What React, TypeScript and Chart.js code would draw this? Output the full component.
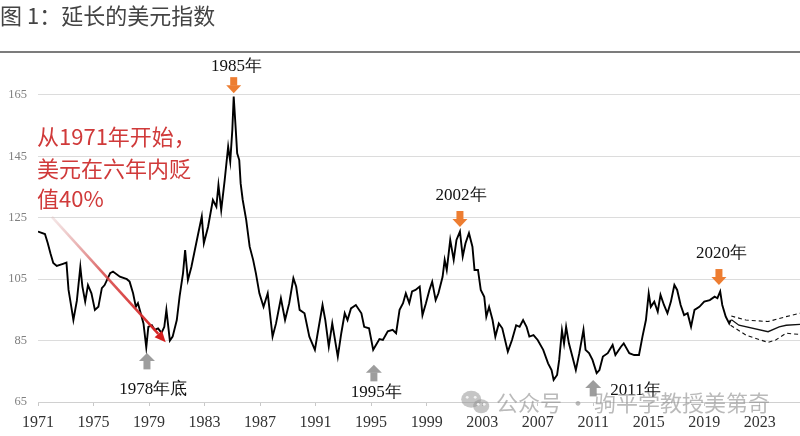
import React, { useEffect, useRef } from "react";
import { Chart, registerables } from "chart.js";

Chart.register(...registerables);

const titleText = "图 1：延长的美元指数";

const xTickYears = [1971, 1975, 1979, 1983, 1987, 1991, 1995, 1999, 2003, 2007, 2011, 2015, 2019, 2023];
const yTickValues = [65, 85, 105, 125, 145, 165];

const dxyYears = [
  1971.0, 1971.5, 1971.7, 1971.9, 1972.1, 1972.35, 1972.8, 1973.05, 1973.2, 1973.4,
  1973.55, 1973.8, 1974.05, 1974.2, 1974.4, 1974.6, 1974.85, 1975.1, 1975.35, 1975.6,
  1975.8, 1976.2, 1976.4, 1976.9, 1977.4, 1977.6, 1977.85, 1978.05, 1978.2, 1978.4,
  1978.6, 1978.8, 1978.95, 1979.2, 1979.4, 1979.65, 1979.9, 1980.1, 1980.25, 1980.5,
  1980.7, 1981.0, 1981.2, 1981.45, 1981.6, 1981.8, 1982.05, 1982.3, 1982.5, 1982.8,
  1982.95, 1983.25, 1983.6, 1983.85, 1984.0, 1984.2, 1984.45, 1984.7, 1984.85, 1985.0,
  1985.1, 1985.25, 1985.35, 1985.5, 1985.6, 1985.75, 1986.0, 1986.25, 1986.5, 1986.7,
  1986.95, 1987.25, 1987.55, 1987.9, 1988.15, 1988.5, 1988.8, 1989.1, 1989.4, 1989.6,
  1989.85, 1990.2, 1990.55, 1990.95, 1991.15, 1991.5, 1991.7, 1991.95, 1992.2, 1992.6,
  1992.85, 1993.1, 1993.3, 1993.55, 1993.9, 1994.3, 1994.5, 1994.85, 1995.15, 1995.6,
  1995.85, 1996.2, 1996.55, 1996.8, 1997.05, 1997.3, 1997.5, 1997.75, 1997.95, 1998.2,
  1998.5, 1998.7, 1998.95, 1999.2, 1999.4, 1999.65, 1999.85, 2000.15, 2000.3, 2000.45,
  2000.7, 2000.95, 2001.15, 2001.4, 2001.6, 2001.8, 2002.05, 2002.3, 2002.45, 2002.7,
  2002.9, 2003.15, 2003.3, 2003.5, 2003.75, 2003.95, 2004.2, 2004.45, 2004.85, 2005.15,
  2005.45, 2005.7, 2005.95, 2006.2, 2006.4, 2006.7, 2007.0, 2007.4, 2007.75, 2008.0,
  2008.15, 2008.4, 2008.55, 2008.75, 2008.9, 2009.05, 2009.25, 2009.5, 2009.75, 2010.0,
  2010.3, 2010.45, 2010.7, 2010.95, 2011.25, 2011.45, 2011.7, 2012.05, 2012.4, 2012.6,
  2013.0, 2013.2, 2013.6, 2013.95, 2014.3, 2014.55, 2014.8, 2015.0, 2015.15, 2015.4,
  2015.65, 2015.85, 2016.1, 2016.35, 2016.6, 2016.85, 2017.05, 2017.3, 2017.55, 2017.8,
  2018.05, 2018.3, 2018.65, 2019.0, 2019.4, 2019.75, 2019.95, 2020.15, 2020.3, 2020.55,
  2020.8, 2020.9,
];
const dxyValues = [
  120.5, 119.7, 116.8, 113.4, 110.3, 109.3, 110.0, 110.4, 101.5, 96.0,
  91.7, 98.0, 109.0, 102.6, 97.7, 103.1, 100.4, 95.0, 96.0, 102.1,
  103.1, 107.0, 107.5, 105.8, 105.0, 104.2, 100.4, 96.0, 97.2, 93.9,
  90.6, 82.8, 89.5, 90.0, 88.5, 89.0, 87.5, 89.5, 95.0, 85.0,
  86.3, 91.7, 99.3, 107.0, 114.5, 104.7, 109.0, 114.5, 118.9, 125.4,
  116.7, 122.0, 130.8, 128.6, 135.7, 127.5, 137.3, 148.2, 143.3, 153.6,
  164.5, 153.6, 146.0, 143.8, 136.2, 130.8, 124.3, 115.6, 111.3, 106.9,
  100.4, 96.0, 100.4, 86.3, 90.6, 98.8, 91.7, 97.2, 105.3, 102.6,
  95.0, 93.9, 86.3, 82.0, 87.4, 96.6, 91.7, 83.0, 90.6, 79.8,
  87.4, 93.9, 91.7, 95.5, 96.6, 93.9, 89.5, 89.0, 82.0, 85.5,
  85.2, 88.0, 88.5, 87.4, 95.0, 97.2, 100.4, 97.2, 101.0, 101.5,
  102.6, 93.3, 97.2, 101.5, 104.2, 98.2, 100.4, 105.8, 111.3, 108.0,
  117.8, 111.3, 117.8, 120.5, 112.4, 116.7, 120.0, 115.6, 108.0, 108.0,
  101.5, 99.3, 92.8, 96.0, 91.7, 86.3, 90.6, 89.0, 81.4, 85.2,
  90.0, 89.5, 91.7, 89.5, 86.3, 86.8, 85.2, 82.0, 77.6, 75.4,
  72.2, 73.8, 78.7, 88.3, 84.0, 89.5, 84.1, 79.8, 75.4, 80.9,
  88.5, 82.0, 80.9, 78.7, 74.4, 75.4, 79.8, 80.9, 83.6, 80.3,
  83.0, 84.1, 80.9, 80.3, 80.3, 86.3, 91.7, 100.4, 96.0, 97.7,
  94.4, 99.9, 96.6, 93.9, 97.7, 103.1, 101.5, 96.6, 93.3, 93.9,
  89.5, 95.0, 96.0, 97.7, 98.2, 99.3, 98.8, 101.0, 96.6, 92.8,
  90.6, 91.7,
];

const forecastYears = [2020.9, 2021.0, 2021.5, 2023.6, 2024.4, 2024.9, 2025.9];
const forecastValues = [91.7, 91.7, 90.0, 87.9, 89.5, 90.0, 90.3];
const upperYears = [2020.95, 2022.0, 2023.6, 2024.9, 2025.9];
const upperValues = [93.0, 91.7, 91.2, 92.8, 93.9];
const lowerYears = [2020.9, 2022.0, 2023.6, 2024.15, 2024.9, 2025.9];
const lowerValues = [90.0, 86.8, 84.4, 85.2, 87.4, 87.0];

const peakLabels = ["1985年", "2002年", "2020年"];
const peakArrowYears = [1985.1, 2001.4, 2020.06];
const peakArrowTips = [165.6, 122.0, 103.1];
const peakTextYears = [1985.3, 2001.48, 2020.24];
const peakTextValues = [174.2, 132.4, 113.5];

const troughLabels = ["1978年底", "1995年", "2011年"];
const troughArrowYears = [1978.85, 1995.2, 2011.0];
const troughArrowTips = [81.0, 77.1, 72.2];
const troughTextYears = [1979.3, 1995.37, 2014.05];
const troughTextValues = [68.9, 68.1, 68.6];

const noteLines = ["从1971年开始，", "美元在六年内贬", "值40%"];
const noteYear = 1971.0;
const noteValues = [151.3, 141.0, 131.1];
const noteArrowStart = [1972.0, 125.3];
const noteArrowEnd = [1980.2, 84.5];

const watermarkText = "公众号 · 驹平学教授美第奇";
const watermarkYear = 2004.0;
const watermarkIconYear = 2002.5;
const watermarkValue = 64.9;

const toPoints = (xs: number[], ys: number[]) => xs.map((x, i) => ({ x, y: ys[i] }));

const SERIF = "'Liberation Serif', 'Times New Roman', serif";
const SANS = "'Noto Sans CJK SC', 'Noto Sans', sans-serif";

const annotationPlugin = {
  id: "dxyAnnotations",
  afterDatasetsDraw(chart: any) {
    const ctx: CanvasRenderingContext2D = chart.ctx;
    const xs = chart.scales.x;
    const ys = chart.scales.y;
    const px = (v: number) => xs.getPixelForValue(v);
    const py = (v: number) => ys.getPixelForValue(v);

    ctx.save();

    // rule under title
    ctx.strokeStyle = "#505050";
    ctx.lineWidth = 1.6;
    ctx.beginPath();
    ctx.moveTo(0, 52);
    ctx.lineTo(chart.width, 52);
    ctx.stroke();

    // peak arrows (orange, pointing down)
    ctx.fillStyle = "#ed7d31";
    peakArrowYears.forEach((yr, i) => {
      const x = px(yr);
      const t = py(peakArrowTips[i]);
      ctx.beginPath();
      ctx.rect(x - 3.5, t - 16, 7, 8.5);
      ctx.fill();
      ctx.beginPath();
      ctx.moveTo(x - 7.5, t - 8);
      ctx.lineTo(x + 7.5, t - 8);
      ctx.lineTo(x, t);
      ctx.closePath();
      ctx.fill();
    });

    // trough arrows (grey, pointing up)
    ctx.fillStyle = "#9d9d9d";
    troughArrowYears.forEach((yr, i) => {
      const x = px(yr);
      const t = py(troughArrowTips[i]);
      ctx.beginPath();
      ctx.moveTo(x, t);
      ctx.lineTo(x + 8, t + 8);
      ctx.lineTo(x - 8, t + 8);
      ctx.closePath();
      ctx.fill();
      ctx.beginPath();
      ctx.rect(x - 3.5, t + 7.5, 7, 9);
      ctx.fill();
    });

    // labels
    ctx.fillStyle = "#111";
    ctx.font = `17px ${SERIF}`;
    ctx.textAlign = "center";
    ctx.textBaseline = "middle";
    peakLabels.forEach((s, i) => ctx.fillText(s, px(peakTextYears[i]), py(peakTextValues[i])));
    troughLabels.forEach((s, i) => ctx.fillText(s, px(troughTextYears[i]), py(troughTextValues[i])));

    // red note
    ctx.fillStyle = "#d03a3a";
    ctx.font = `22px ${SANS}`;
    ctx.textAlign = "left";
    noteLines.forEach((s, i) => ctx.fillText(s, px(noteYear) - 1, py(noteValues[i])));

    // red arrow with gradient
    const x0 = px(noteArrowStart[0]);
    const y0 = py(noteArrowStart[1]);
    const x1 = px(noteArrowEnd[0]);
    const y1 = py(noteArrowEnd[1]);
    const grad = ctx.createLinearGradient(x0, y0, x1, y1);
    grad.addColorStop(0, "rgba(220,175,175,0.3)");
    grad.addColorStop(0.45, "rgba(215,70,70,0.85)");
    grad.addColorStop(1, "rgba(214,30,30,1)");
    const ang = Math.atan2(y1 - y0, x1 - x0);
    const headLen = 11;
    const bx = x1 - headLen * Math.cos(ang);
    const by = y1 - headLen * Math.sin(ang);
    ctx.strokeStyle = grad;
    ctx.lineWidth = 2.6;
    ctx.beginPath();
    ctx.moveTo(x0, y0);
    ctx.lineTo(bx, by);
    ctx.stroke();
    ctx.fillStyle = "#d61e1e";
    ctx.beginPath();
    ctx.moveTo(x1, y1);
    ctx.lineTo(bx + 5 * Math.sin(ang), by - 5 * Math.cos(ang));
    ctx.lineTo(bx - 5 * Math.sin(ang), by + 5 * Math.cos(ang));
    ctx.closePath();
    ctx.fill();

    // watermark
    const wy = py(watermarkValue);
    const ix = px(watermarkIconYear);
    ctx.fillStyle = "rgba(150,150,150,0.55)";
    ctx.beginPath();
    ctx.ellipse(ix - 4, wy - 3, 10, 8.5, 0, 0, Math.PI * 2);
    ctx.fill();
    ctx.beginPath();
    ctx.ellipse(ix + 6, wy + 4, 8, 7, 0, 0, Math.PI * 2);
    ctx.fill();
    ctx.fillStyle = "rgba(255,255,255,0.8)";
    [[-8, -5], [0, -5], [3, 2], [9, 2]].forEach(([dx, dy]) => {
      ctx.beginPath();
      ctx.arc(ix + dx, wy + dy, 1.4, 0, Math.PI * 2);
      ctx.fill();
    });
    ctx.fillStyle = "rgba(140,140,140,0.6)";
    ctx.font = `22px ${SANS}`;
    ctx.textAlign = "left";
    ctx.fillText(watermarkText, px(watermarkYear), wy);

    ctx.restore();
  },
};

export default function App() {
  const canvasRef = useRef<HTMLCanvasElement | null>(null);

  useEffect(() => {
    if (!canvasRef.current) return;
    const chart = new Chart(canvasRef.current, {
      type: "line",
      data: {
        datasets: [
          {
            data: toPoints(dxyYears, dxyValues),
            borderColor: "#000",
            borderWidth: 1.9,
            pointRadius: 0,
            tension: 0,
          },
          {
            data: toPoints(forecastYears, forecastValues),
            borderColor: "#111",
            borderWidth: 1.3,
            pointRadius: 0,
            tension: 0,
          },
          {
            data: toPoints(upperYears, upperValues),
            borderColor: "#111",
            borderWidth: 1.1,
            borderDash: [4, 3],
            pointRadius: 0,
            tension: 0,
          },
          {
            data: toPoints(lowerYears, lowerValues),
            borderColor: "#111",
            borderWidth: 1.1,
            borderDash: [4, 3],
            pointRadius: 0,
            tension: 0,
          },
        ],
      },
      options: {
        animation: false,
        responsive: false,
        devicePixelRatio: 1,
        layout: { padding: 0 },
        plugins: {
          legend: { display: false },
          tooltip: { enabled: false },
          title: {
            display: true,
            text: titleText,
            align: "start",
            color: "#444",
            font: { family: SANS, size: 22, weight: "normal" },
            padding: { top: 2, bottom: 31.6 },
          },
        },
        scales: {
          x: {
            type: "linear",
            min: 1971,
            max: 2025.9,
            afterBuildTicks: (scale: any) => {
              scale.ticks = xTickYears.map((v) => ({ value: v }));
            },
            afterFit: (scale: any) => {
              scale.height = 34;
            },
            ticks: {
              callback: (v: any) => String(v),
              color: "#333",
              font: { family: SERIF, size: 16 },
              padding: 7,
              maxRotation: 0,
              autoSkip: false,
            },
            grid: {
              display: true,
              drawOnChartArea: false,
              drawTicks: true,
              tickLength: 4,
              color: "#c8c8c8",
            },
            border: { display: true, color: "#d0d0d0", width: 1 },
          },
          y: {
            type: "linear",
            min: 65,
            max: 176.4,
            afterBuildTicks: (scale: any) => {
              scale.ticks = yTickValues.map((v) => ({ value: v }));
            },
            afterFit: (scale: any) => {
              scale.width = 38;
            },
            ticks: {
              callback: (v: any) => String(v),
              color: "#808080",
              font: { family: SERIF, size: 12.5 },
              padding: 11,
            },
            grid: {
              color: "#dcdcdc",
              lineWidth: 1,
              drawTicks: false,
            },
            border: { display: false },
          },
        },
      },
      plugins: [annotationPlugin],
    } as any);
    return () => chart.destroy();
  }, []);

  return (
    <div style={{ position: "absolute", left: 0, top: 0, width: 800, height: 436, background: "#fff" }}>
      <canvas ref={canvasRef} width={800} height={436} style={{ width: 800, height: 436, display: "block" }} />
    </div>
  );
}
